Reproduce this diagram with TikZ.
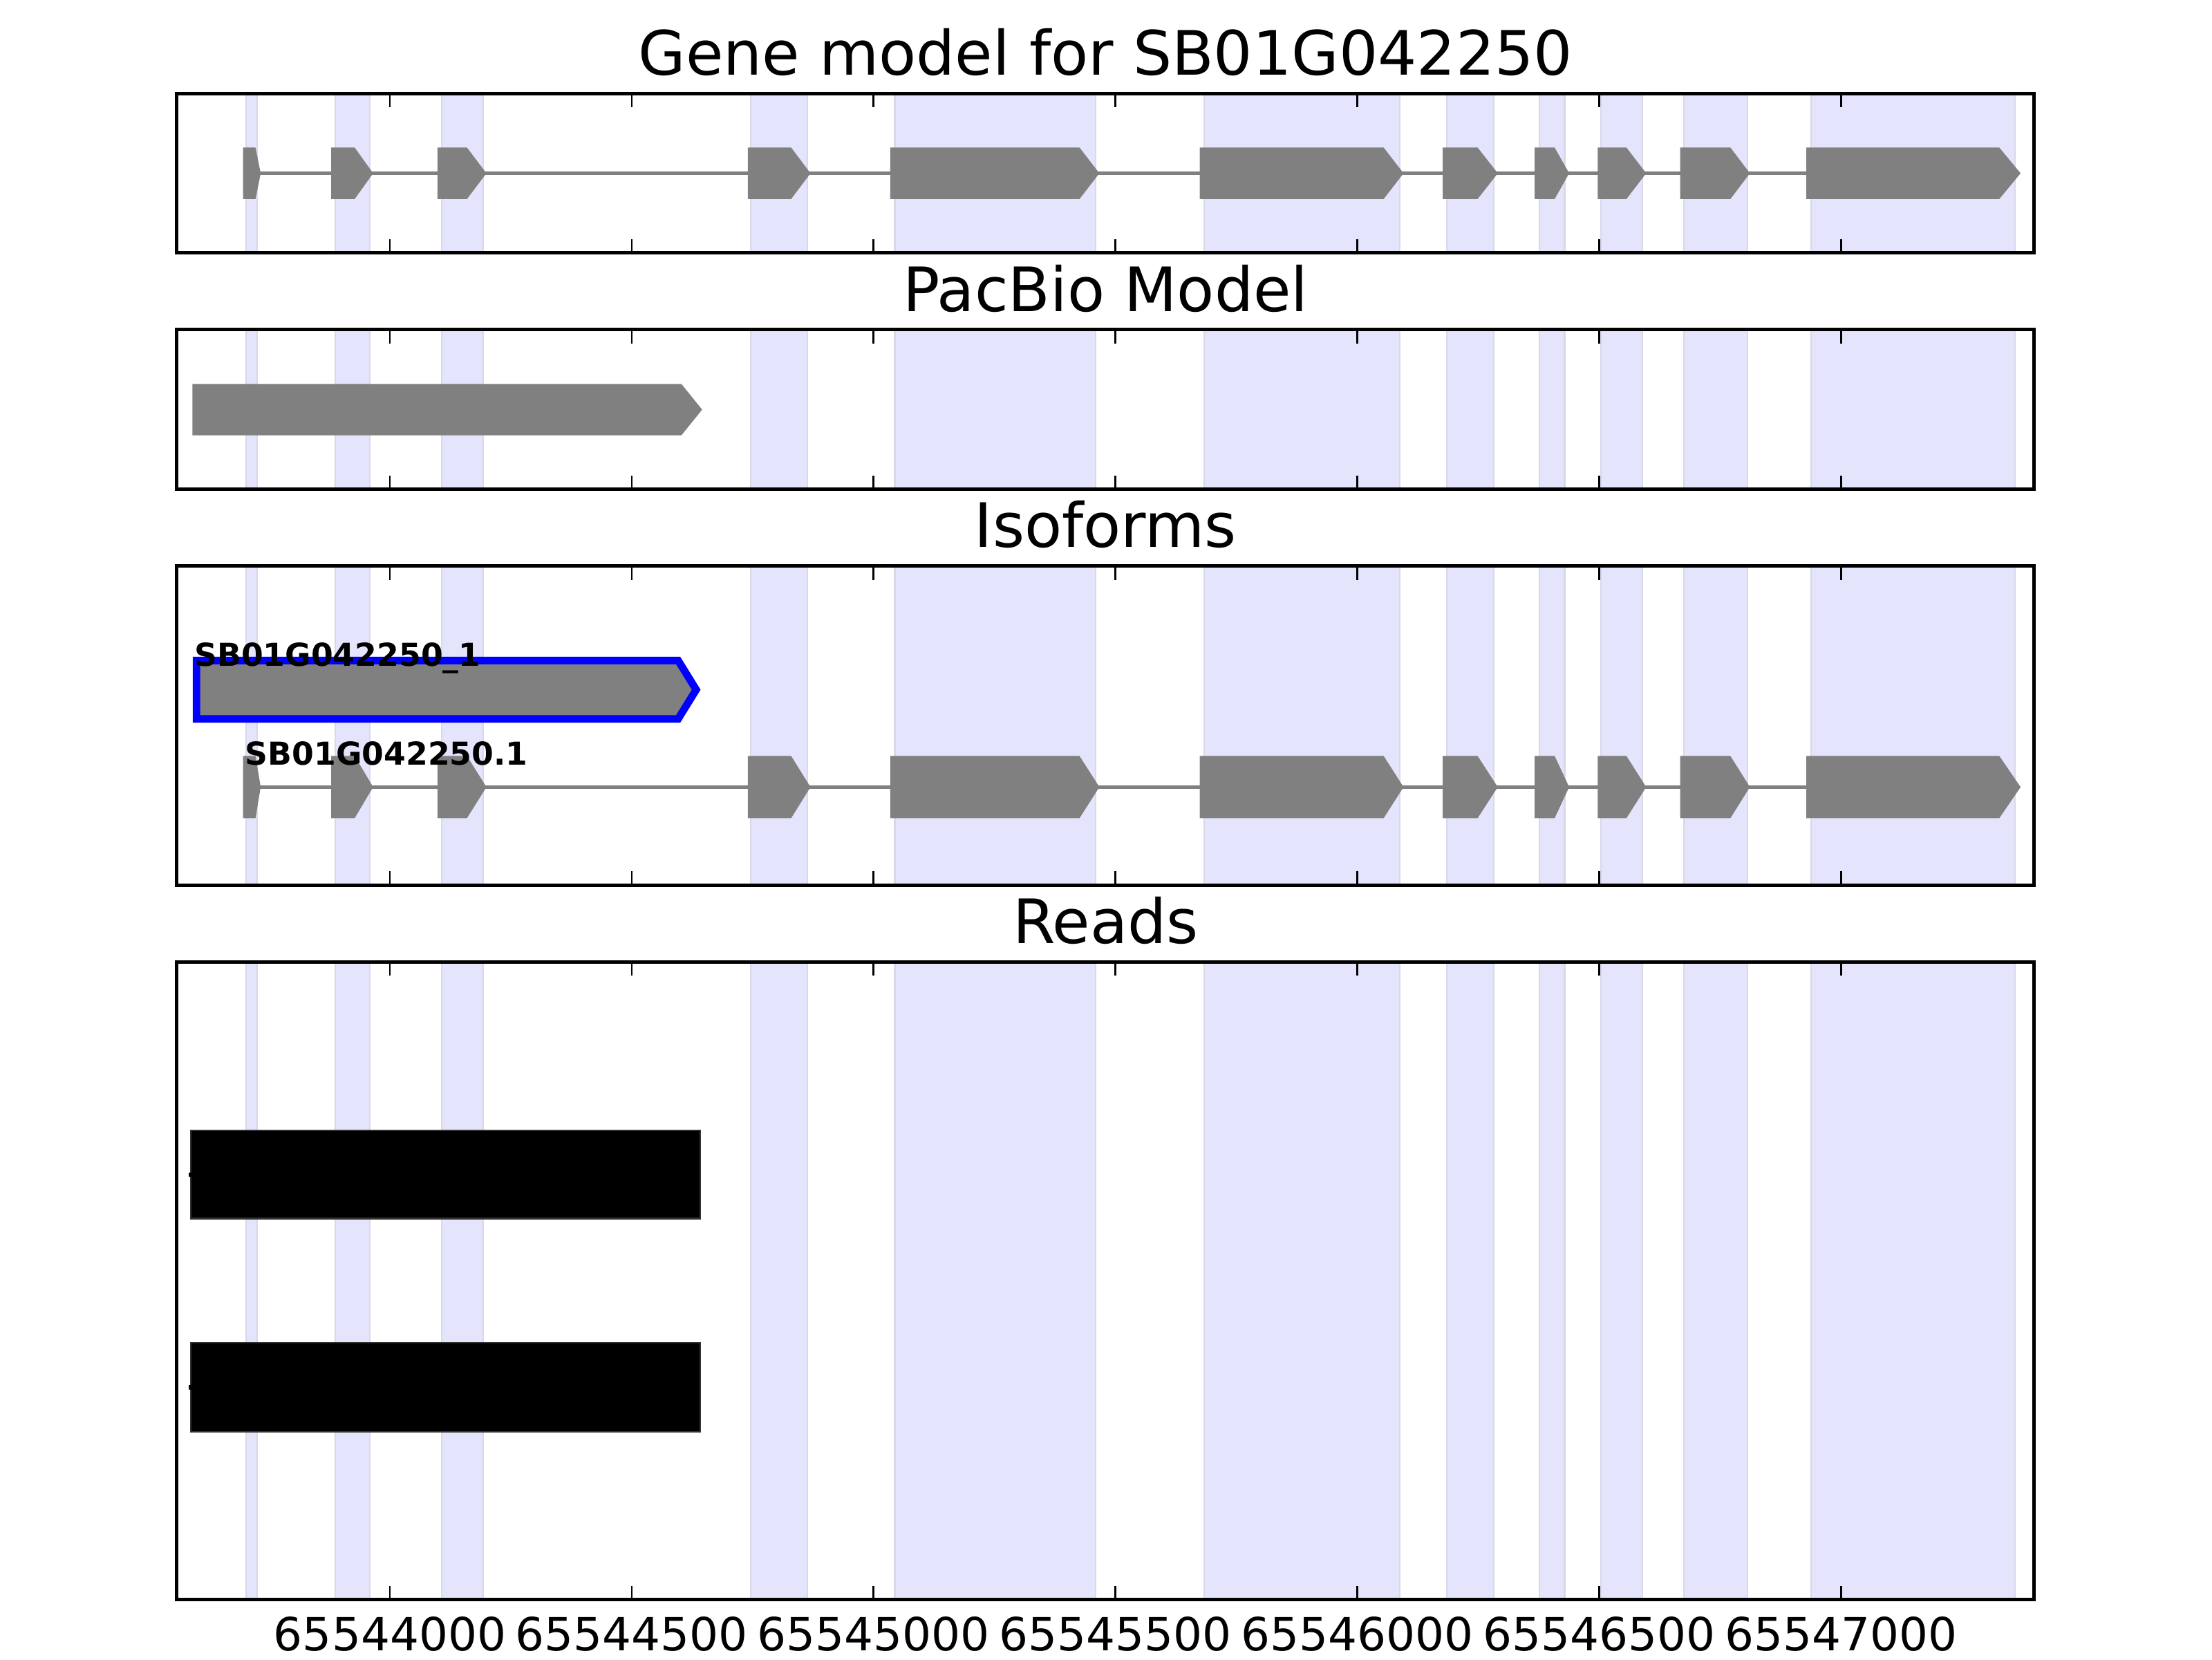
\documentclass[tikz,border=0pt]{standalone}
\usepackage{fontspec}
\setmainfont{DejaVu Sans}
\definecolor{bandfill}{HTML}{E4E4FC}
\definecolor{bandedge}{HTML}{D8D8E8}
\definecolor{exongray}{HTML}{808080}
\definecolor{readedge}{HTML}{333333}
\definecolor{isoblue}{HTML}{0000FF}
\begin{document}
\begin{tikzpicture}[x=0.0102041cm,y=-0.0102041cm,
  band/.style={fill=bandfill, draw=bandedge, line width=0.3pt},
  intron/.style={draw=exongray, line width=0.68pt},
  frame/.style={draw=black, line width=0.71pt},
  tickmark/.style={draw=black, line width=0.4pt},
  paneltitle/.style={anchor=base, inner sep=0pt, font=\fontsize{12.6}{14}\selectfont},
  ticklabel/.style={anchor=base, inner sep=0pt, font=\fontsize{9.4}{11}\selectfont},
  isolabel/.style={anchor=base west, inner sep=0pt, font=\fontsize{6.5}{8}\selectfont\bfseries},
  readbar/.style={fill=black, draw=readedge, line width=0.3pt},
  selected/.style={fill=exongray, draw=isoblue, line width=1.54pt, line join=miter}
]
\def\bandlist{174.4/182.3, 237.7/262.2, 312.9/342.4, 532.3/572.3, 634.3/776.5, 853.6/992.1, 1025.5/1059.0, 1091.0/1109.1, 1134.7/1164.4, 1193.5/1238.5, 1283.8/1428.5}
\def\exonlist{172.3/181.1/184.8, 234.8/251.4/264.5, 310.1/331.0/344.8, 530.1/560.8/574.5, 631.1/765.2/779.3, 850.5/980.8/994.9, 1022.7/1047.4/1061.7, 1087.9/1102.0/1112.3, 1132.6/1152.9/1166.9, 1191.0/1226.6/1240.4, 1280.4/1417.2/1432.3}
\def\panellist{66.2/179.2, 233.7/346.7, 401.2/627.2, 681.7/1133.7}

% page
\fill[white] (0,0) rectangle (1568,1176);
\useasboundingbox (0,0) rectangle (1568,1176);

% shaded exon bands in every panel
\foreach \tp/\bt in \panellist {
  \foreach \a/\b in \bandlist {
    \filldraw[band] (\a,\tp) rectangle (\b,\bt);
  }
}

% panel 1: gene model
\draw[intron] (184.8,122.8) -- (1280.4,122.8);
\foreach \a/\s/\e in \exonlist {
  \fill[exongray] (\a,104.55) -- (\s,104.55) -- (\e,122.8) -- (\s,141.05) -- (\a,141.05) -- cycle;
}

% panel 2: PacBio model
\fill[exongray] (136.4,272.1) -- (483,272.1) -- (497.7,290.3) -- (483,308.5) -- (136.4,308.5) -- cycle;

% panel 3: isoforms
\draw[selected] (139.3,468.1) -- (480.7,468.1) -- (493.5,488.8) -- (480.7,509.5) -- (139.3,509.5) -- cycle;
\node[isolabel] (iso1) at (137.2,472.1) {SB01G042250\_1};
\draw[intron] (184.8,557.8) -- (1280.4,557.8);
\foreach \a/\s/\e in \exonlist {
  \fill[exongray] (\a,535.75) -- (\s,535.75) -- (\e,557.8) -- (\s,579.85) -- (\a,579.85) -- cycle;
}
\node[isolabel] (iso2) at (173.2,542) {SB01G042250.1};

% panel 4: reads
\filldraw[readbar] (135.1,801.3) rectangle (496.2,863.6);
\filldraw[readbar] (135.1,951.7) rectangle (496.2,1014.6);
\draw[line width=0.9pt] (133.9,832.5) -- (135.6,832.5);
\draw[line width=0.9pt] (133.9,983.2) -- (135.6,983.2);

% frames and ticks
\foreach \tp/\bt in \panellist {
  \foreach \k in {0,...,6} {
    \draw[tickmark] ({276.4+171.45*\k},\tp) -- ++(0,9.8);
    \draw[tickmark] ({276.4+171.45*\k},\bt) -- ++(0,-9.8);
  }
  \draw[frame] (125.4,\tp) rectangle (1442,\bt);
}

% titles
\node[paneltitle] (t1) at (783.7,53.0) {Gene model for SB01G042250};
\node[paneltitle] (t2) at (783.7,220.5) {PacBio Model};
\node[paneltitle] (t3) at (783.7,388.0) {Isoforms};
\node[paneltitle] (t4) at (783.7,668.5) {Reads};

% tick labels
\foreach \k/\lab in {0/65544000, 1/65544500, 2/65545000, 3/65545500, 4/65546000, 5/65546500, 6/65547000} {
  \node[ticklabel] (tl\k) at ({276.4+171.45*\k},1170) {\lab};
}
\end{tikzpicture}
\end{document}
